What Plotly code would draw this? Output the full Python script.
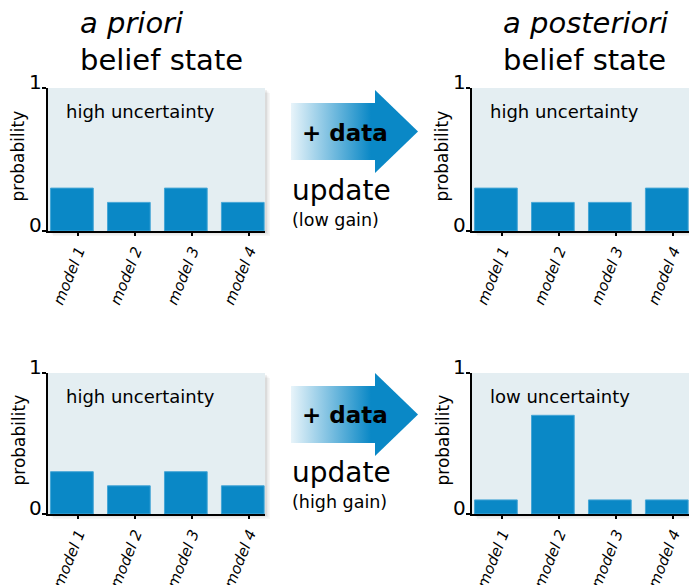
import plotly.graph_objects as go

# ---- data -------------------------------------------------------------
models = ["model 1", "model 2", "model 3", "model 4"]
prior_low_gain = [0.3, 0.2, 0.3, 0.2]
posterior_low_gain = [0.3, 0.2, 0.2, 0.3]
prior_high_gain = [0.3, 0.2, 0.3, 0.2]
posterior_high_gain = [0.1, 0.7, 0.1, 0.1]
panel_notes = ["high uncertainty", "high uncertainty", "high uncertainty", "low uncertainty"]
gain_labels = ["(low gain)", "(high gain)"]
y_ticks = [0, 1]

# ---- page geometry (pixels) ------------------------------------------
W, H = 689, 585
FONT = "DejaVu Sans"
BAR_BLUE = "#0a88c6"
PANEL_BG = "#e4eef2"


def fx(x):
    return x / W


def fy(y):
    return 1 - y / H


# panel boxes: left, right, top, bottom
panels = [
    (48, 265, 88, 231),
    (472, 689, 88, 231),
    (48, 265, 373, 514),
    (472, 689, 373, 514),
]
series = [prior_low_gain, posterior_low_gain, prior_high_gain, posterior_high_gain]
xpos = list(range(len(models)))
tickpos = [i + 0.115 for i in xpos]

fig = go.Figure()
layout = dict(
    width=W, height=H, margin=dict(l=0, r=0, t=0, b=0, autoexpand=False),
    paper_bgcolor="white", plot_bgcolor="rgba(0,0,0,0)",
    showlegend=False, font=dict(family=FONT, color="black"),
)

shapes = []
annotations = []


def text_at(text, x, y, size, xanchor="left", yanchor="middle", angle=0, **font):
    """Place text at pixel position (x, y)."""
    annotations.append(dict(
        text=text, xref="paper", yref="paper", x=fx(x), y=fy(y),
        xanchor=xanchor, yanchor=yanchor, textangle=angle, showarrow=False,
        font=dict(family=FONT, size=size, color="black", **font),
    ))


def label(text, x, baseline, size, anchor="left", **font):
    text_at(text, x, baseline - 0.346 * size, size, xanchor=anchor, **font)


for k, ((l, r, t, b), vals) in enumerate(zip(panels, series)):
    n = k + 1
    xa = "xaxis" if n == 1 else f"xaxis{n}"
    ya = "yaxis" if n == 1 else f"yaxis{n}"
    xr = "x" if n == 1 else f"x{n}"
    yr = "y" if n == 1 else f"y{n}"

    # soft drop shadow behind the panel
    for off, a in [(5, 0.035), (3.5, 0.05), (2, 0.06)]:
        shapes.append(dict(type="rect", xref="paper", yref="paper",
                           x0=fx(l + off), x1=fx(min(r + off, W)),
                           y0=fy(b + off), y1=fy(t + off),
                           fillcolor=f"rgba(0,0,0,{a})", line_width=0, layer="below"))
    shapes.append(dict(type="rect", xref="paper", yref="paper",
                       x0=fx(l), x1=fx(r), y0=fy(b), y1=fy(t),
                       fillcolor=PANEL_BG, line_width=0, layer="below"))

    fig.add_trace(go.Bar(
        x=xpos, y=vals, xaxis=xr, yaxis=yr, width=0.75,
        marker=dict(color=BAR_BLUE, line=dict(color="#45a6d6", width=1)),
        hoverinfo="skip",
    ))

    layout[xa] = dict(
        domain=[fx(l), fx(r)], range=[-0.42, 3.39], anchor=yr, automargin=False,
        showgrid=False, zeroline=False, showline=True, linecolor="black", linewidth=2,
        ticks="outside", ticklen=3, tickwidth=2, tickcolor="black",
        tickvals=tickpos, ticktext=models, tickangle=-68,
        tickfont=dict(family=FONT, size=15, style="italic", color="black"),
        fixedrange=True,
    )
    layout[ya] = dict(
        domain=[fy(b), fy(t)], range=[0, 1], anchor=xr, automargin=False,
        showgrid=False, zeroline=False, showline=True, linecolor="black", linewidth=1.5,
        ticks="outside", ticklen=4, tickwidth=1.5, tickcolor="black",
        tickvals=y_ticks, showticklabels=False, fixedrange=True,
    )

    # y tick labels sit just above their tick, left of the axis
    for v in y_ticks:
        ypix = b - v * (b - t)
        label(str(v), l - 4, ypix + 1, 20, anchor="right")

    # panel note and y title
    label(panel_notes[k], l + 16, t + 30, 18)
    text_at("probability", l - 30, (t + b) / 2 - 3, 17, xanchor="center", angle=-90)

# overlay axis in pixel units for the arrows
layout["xaxis5"] = dict(domain=[0, 1], range=[0, W], visible=False, fixedrange=True,
                        anchor="y5", automargin=False)
layout["yaxis5"] = dict(domain=[0, 1], range=[H, 0], visible=False, fixedrange=True,
                        anchor="x5", automargin=False)

for dy in (0, 283):
    bx0, bx1, by0, by1 = 291, 376, 103 + dy, 160 + dy
    fig.add_trace(go.Scatter(
        x=[bx0, bx1, bx1, bx0, bx0], y=[by0, by0, by1, by1, by0],
        xaxis="x5", yaxis="y5", mode="lines", line=dict(width=0),
        fill="toself",
        fillgradient=dict(type="horizontal", start=bx0, stop=371,
                          colorscale=[[0, "#e8f4fa"], [1, BAR_BLUE]]),
        hoverinfo="skip",
    ))
    fig.add_trace(go.Scatter(
        x=[375, 418, 375, 375], y=[90 + dy, 131.5 + dy, 173 + dy, 90 + dy],
        xaxis="x5", yaxis="y5", mode="lines", line=dict(width=0),
        fill="toself", fillcolor=BAR_BLUE, hoverinfo="skip",
    ))

# column headings
label("a priori", 78, 33, 29, style="italic")
label("belief state", 78, 70, 29)
label("a posteriori", 501, 33, 29, style="italic")
label("belief state", 501, 70, 29)

# arrow texts
for dy, gain in zip((0, 282), gain_labels):
    label("+ data", 300, 141 + dy, 23, weight="bold")
    label("update", 290, 200 + dy, 28)
    label(gain, 290, 226 + dy, 17.5)

layout["shapes"] = shapes
layout["annotations"] = annotations
fig.update_layout(**layout)
fig.write_html("out.html")
